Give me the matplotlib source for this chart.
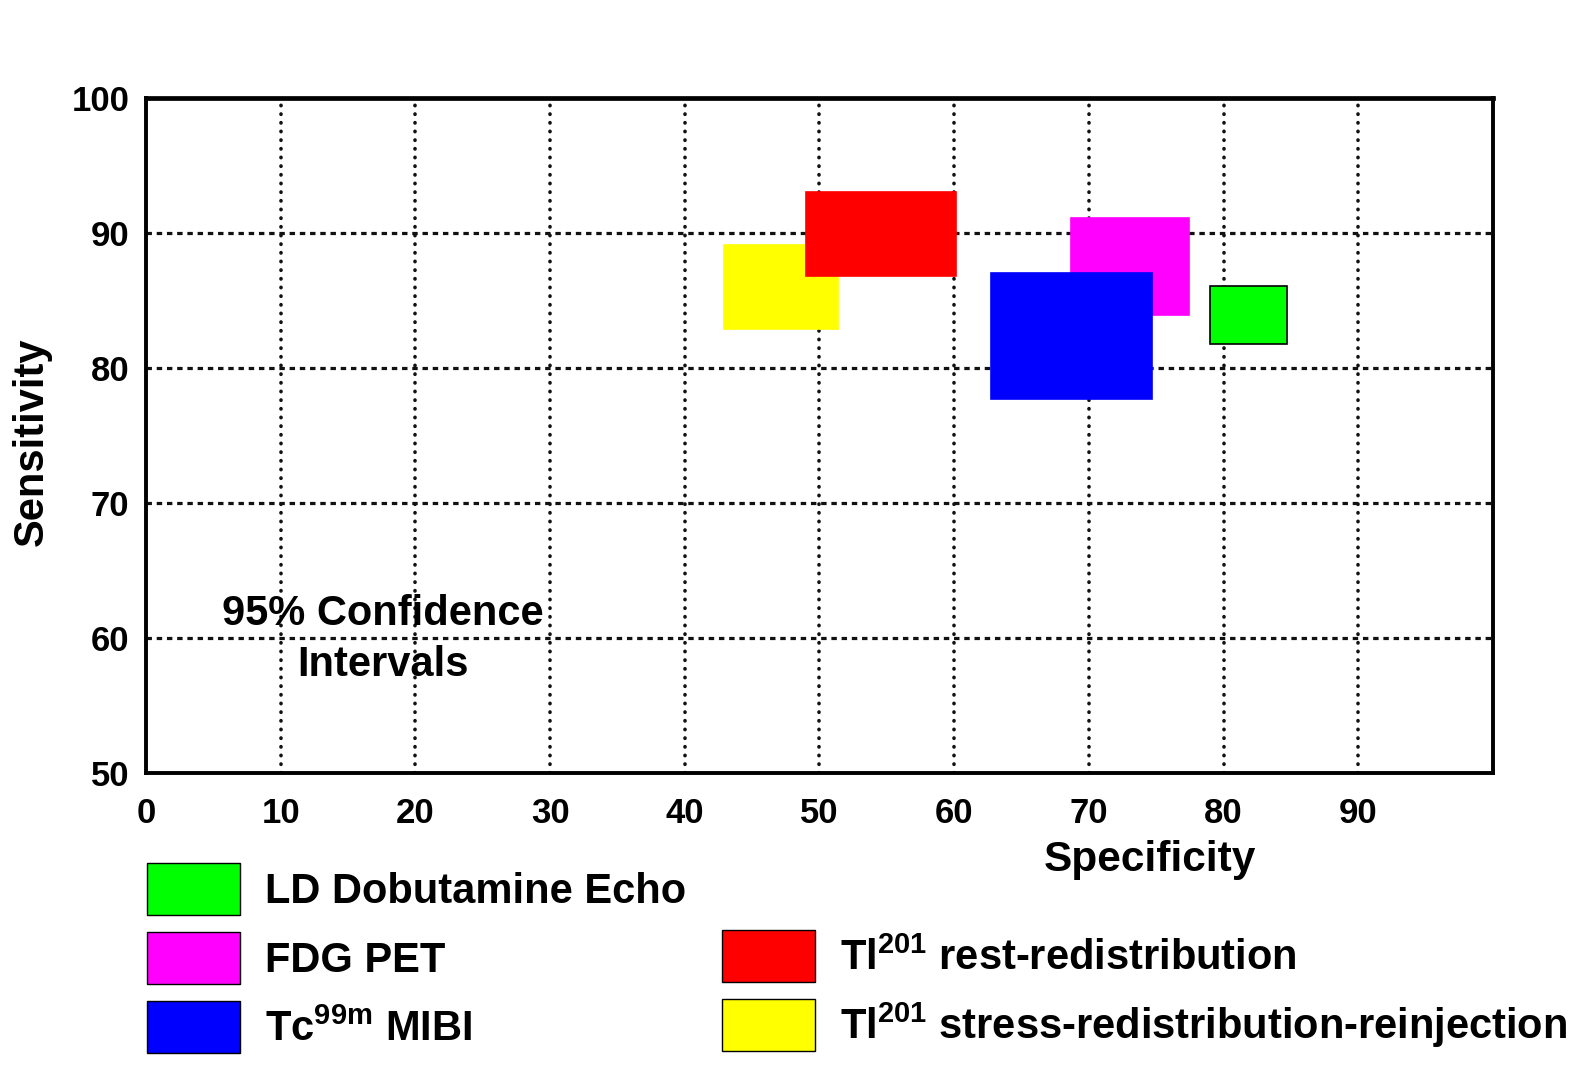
import matplotlib
matplotlib.use("Agg")
import matplotlib.pyplot as plt
from matplotlib.patches import Patch
import numpy as np

plt.rcParams['font.family'] = ['Liberation Sans', 'DejaVu Sans']
plt.rcParams['font.weight'] = 'bold'
plt.rcParams['mathtext.fontset'] = 'custom'
plt.rcParams['mathtext.rm'] = 'Liberation Sans:bold'
plt.rcParams['mathtext.it'] = 'Liberation Sans:bold'
plt.rcParams['mathtext.bf'] = 'Liberation Sans:bold'

# 95% confidence intervals (specificity x, sensitivity y)
modalities = ['LD Dobutamine Echo', 'FDG PET', r'Tc$^{99m}$ MIBI',
              r'Tl$^{201}$ rest-redistribution',
              r'Tl$^{201}$ stress-redistribution-reinjection']
colors = ['#00ff00', '#ff00ff', '#0000ff', '#ff0000', '#ffff00']
spec_lo = np.array([79.0, 68.7, 62.7, 49.0, 42.9])
spec_hi = np.array([84.7, 77.4, 74.7, 60.1, 51.4])
sens_lo = np.array([81.8, 83.9, 77.7, 86.8, 82.9])
sens_hi = np.array([86.1, 91.1, 87.0, 93.0, 89.1])
draw_order = [4, 3, 1, 2, 0]  # yellow under red, magenta under blue

x_ticks = [0, 10, 20, 30, 40, 50, 60, 70, 80, 90]
y_ticks = [50, 60, 70, 80, 90, 100]

fig = plt.figure(figsize=(15.88, 10.74), dpi=100)
ax = fig.add_axes([0.0919, 0.2803, 0.8483, 0.6285])
ax.set_xlim(0, 100)
ax.set_ylim(50, 100)

# grid
for xv in x_ticks[1:]:
    ax.axvline(xv, color='#111111', lw=2.6, ls=(0, (0.1, 2.3)),
               dash_capstyle='round', zorder=1)
for yv in y_ticks[1:-1]:
    ax.axhline(yv, color='#111111', lw=2.3, ls=(0, (1.7, 1.5)), zorder=1)

for z, i in enumerate(draw_order):
    ax.bar(spec_lo[i], sens_hi[i] - sens_lo[i], width=spec_hi[i] - spec_lo[i],
           bottom=sens_lo[i], align='edge', color=colors[i],
           edgecolor='black' if i == 0 else colors[i],
           linewidth=1.2, zorder=2 + z)

ax.set_xticks(x_ticks)
ax.set_yticks(y_ticks)
ax.tick_params(length=0, labelsize=25)
ax.tick_params(axis='x', pad=17)
ax.tick_params(axis='y', pad=12)
for sp in ax.spines.values():
    sp.set_linewidth(2.8)
ax.spines['top'].set_linewidth(3.4)

ax.set_xlabel('Specificity', fontsize=30.5, fontweight='bold')
ax.xaxis.set_label_coords(0.745, -0.10)
ax.set_ylabel('Sensitivity', fontsize=30, fontweight='bold')
ax.yaxis.set_label_coords(-0.07, 0.49)

ax.text(17.6, 59.9, '95% Confidence\nIntervals', fontsize=30,
        fontweight='bold', ha='center', va='center', multialignment='center',
        linespacing=1.35, zorder=10)

handles = [Patch(facecolor=c, edgecolor='black', linewidth=1.0) for c in colors]
leg_kw = dict(frameon=False, loc='upper left', borderpad=0, borderaxespad=0,
              handlelength=2.23, handleheight=1.54, handletextpad=0.6,
              labelspacing=0.41, prop={'size': 30, 'weight': 'bold'})
leg1 = fig.legend(handles[:3], modalities[:3],
                  bbox_to_anchor=(147 / 1588, 1 - 863 / 1074), **leg_kw)
leg2 = fig.legend(handles[3:], modalities[3:],
                  bbox_to_anchor=(722 / 1588, 1 - 930 / 1074), **leg_kw)

fig.savefig('out.png', dpi=100, facecolor='white')
